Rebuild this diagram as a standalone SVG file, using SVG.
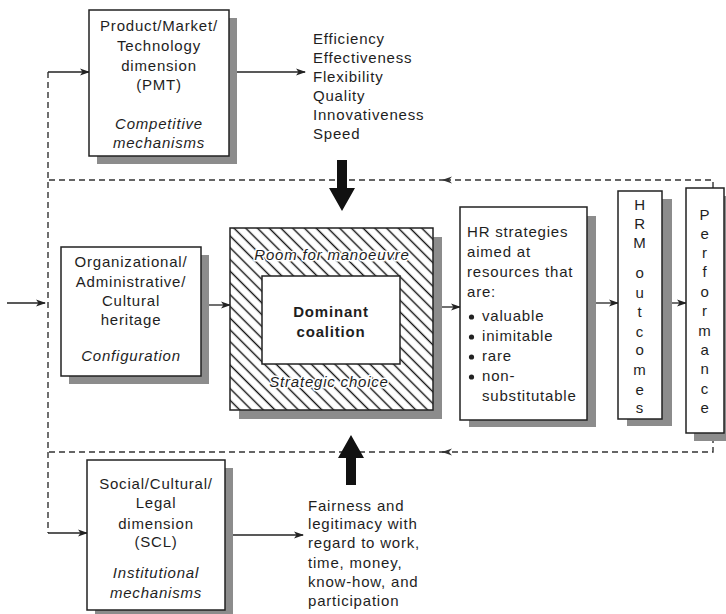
<svg xmlns="http://www.w3.org/2000/svg" width="726" height="614" viewBox="0 0 726 614">
<style>
text{font-family:"Liberation Sans",Arial,sans-serif;font-size:15px;letter-spacing:0.8px;fill:#1e1e1e}
.c{text-anchor:middle}
.i{font-style:italic}
.b{font-weight:bold}
.box{fill:#fff;stroke:#222;stroke-width:1.5}
.sh{fill:#8c8c8c}
.ln{fill:none;stroke:#222;stroke-width:1.3}
.dash{fill:none;stroke:#333;stroke-width:1.4;stroke-dasharray:6 4}
.halo{stroke:#fff;stroke-width:3;paint-order:stroke;stroke-linejoin:round}
</style>
<defs>
<marker id="ah" markerWidth="10" markerHeight="8" refX="9" refY="4" orient="auto" markerUnits="userSpaceOnUse">
<path d="M0,0.5 L10,4 L0,7.5 L2.5,4 Z" fill="#222"/>
</marker>
<pattern id="hatch" width="8.3" height="8.3" patternUnits="userSpaceOnUse" patternTransform="rotate(45)">
<rect width="8.3" height="8.3" fill="#fff"/>
<line x1="0" y1="4.15" x2="8.3" y2="4.15" stroke="#111" stroke-width="1.4"/>
</pattern>
</defs>

<g id="connectors">
<path class="dash" d="M713,188 V180 H442"/>
<path class="dash" d="M445,180 H48"/>
<polygon points="442,180 452,176.5 449,180 452,183.5" fill="#333"/>
<path class="dash" d="M48,72 V533"/>
<path class="dash" d="M713,437 V452 H442"/>
<path class="dash" d="M445,452 H48"/>
<polygon points="442,452 452,448.5 449,452 452,455.5" fill="#333"/>
<path class="ln" d="M48,72 H89" marker-end="url(#ah)"/>
<path class="ln" d="M48,533 H87" marker-end="url(#ah)"/>
<path class="ln" d="M7,303 H45" marker-end="url(#ah)"/>
<path class="ln" d="M229,72 H305" marker-end="url(#ah)"/>
<path class="ln" d="M225,535 H303" marker-end="url(#ah)"/>
<path class="ln" d="M201,305 H230" marker-end="url(#ah)"/>
<path class="ln" d="M433,307 H460" marker-end="url(#ah)"/>
<path class="ln" d="M587,303 H618" marker-end="url(#ah)"/>
<path class="ln" d="M662,303 H686" marker-end="url(#ah)"/>
<path d="M337,160 H347 V188 H355 L342,211 L329,188 H337 Z" fill="#111"/>
<path d="M351,435 L364,458 H356 V485 H346 V458 H338 Z" fill="#111"/>
</g>

<g id="pmt">
<rect class="sh" x="97" y="18" width="140" height="146"/>
<rect class="box" x="89" y="10" width="140" height="146"/>
<text class="c" x="159" y="31">Product/Market/</text>
<text class="c" x="159" y="51">Technology</text>
<text class="c" x="159" y="71">dimension</text>
<text class="c" x="159" y="90">(PMT)</text>
<text class="c i" x="159" y="129">Competitive</text>
<text class="c i" x="159" y="148">mechanisms</text>
</g>

<g id="pmt-outcomes">
<text x="313" y="44">Efficiency</text>
<text x="313" y="63">Effectiveness</text>
<text x="313" y="82">Flexibility</text>
<text x="313" y="101">Quality</text>
<text x="313" y="120">Innovativeness</text>
<text x="313" y="139">Speed</text>
</g>

<g id="oac">
<rect class="sh" x="69" y="255" width="140" height="129"/>
<rect class="box" x="61" y="247" width="140" height="129"/>
<text class="c" x="131" y="267">Organizational/</text>
<text class="c" x="131" y="287">Administrative/</text>
<text class="c" x="131" y="306">Cultural</text>
<text class="c" x="131" y="325">heritage</text>
<text class="c i" x="131" y="361">Configuration</text>
</g>

<g id="coalition">
<rect class="sh" x="239" y="237" width="203" height="182"/>
<rect x="230" y="228" width="203" height="182" fill="url(#hatch)" stroke="#222" stroke-width="1.5"/>
<rect class="box" x="262" y="276" width="138" height="88"/>
<text class="c i halo" x="332" y="260">Room for manoeuvre</text>
<text class="c b" x="331" y="317">Dominant</text>
<text class="c b" x="331" y="337">coalition</text>
<text class="c i halo" x="329" y="387">Strategic choice</text>
</g>

<g id="hr-strategies">
<rect class="sh" x="469" y="216" width="127" height="211"/>
<rect class="box" x="460" y="207" width="127" height="213"/>
<text x="467" y="237">HR strategies</text>
<text x="467" y="257">aimed at</text>
<text x="467" y="277">resources that</text>
<text x="467" y="297">are:</text>
<circle cx="471.5" cy="317" r="2.6" fill="#222"/>
<text x="482" y="321">valuable</text>
<circle cx="471.5" cy="337" r="2.6" fill="#222"/>
<text x="482" y="341">inimitable</text>
<circle cx="471.5" cy="357" r="2.6" fill="#222"/>
<text x="482" y="361">rare</text>
<circle cx="471.5" cy="377" r="2.6" fill="#222"/>
<text x="482" y="381">non-</text>
<text x="482" y="401">substitutable</text>
</g>

<g id="hrm-outcomes">
<rect class="sh" x="627" y="199" width="45" height="227"/>
<rect class="box" x="618" y="191" width="44" height="228"/>
<text class="c" x="640" y="210">H</text>
<text class="c" x="640" y="229">R</text>
<text class="c" x="640" y="248">M</text>
<text class="c" x="640" y="278">o</text>
<text class="c" x="640" y="298">u</text>
<text class="c" x="640" y="317">t</text>
<text class="c" x="640" y="337">c</text>
<text class="c" x="640" y="355">o</text>
<text class="c" x="640" y="375">m</text>
<text class="c" x="640" y="395">e</text>
<text class="c" x="640" y="413">s</text>
</g>

<g id="performance">
<rect class="sh" x="694" y="196" width="40" height="245"/>
<rect class="box" x="686" y="188" width="38" height="245"/>
<text class="c" x="705" y="220">P</text>
<text class="c" x="705" y="239">e</text>
<text class="c" x="705" y="258">r</text>
<text class="c" x="705" y="277">f</text>
<text class="c" x="705" y="297">o</text>
<text class="c" x="705" y="316">r</text>
<text class="c" x="705" y="336">m</text>
<text class="c" x="705" y="355">a</text>
<text class="c" x="705" y="374">n</text>
<text class="c" x="705" y="394">c</text>
<text class="c" x="705" y="413">e</text>
</g>

<g id="scl">
<rect class="sh" x="95" y="468" width="138" height="150"/>
<rect class="box" x="87" y="460" width="138" height="150"/>
<text class="c" x="156" y="489">Social/Cultural/</text>
<text class="c" x="156" y="508">Legal</text>
<text class="c" x="156" y="529">dimension</text>
<text class="c" x="156" y="547">(SCL)</text>
<text class="c i" x="156" y="578">Institutional</text>
<text class="c i" x="156" y="598">mechanisms</text>
</g>

<g id="scl-outcomes">
<text x="308" y="511">Fairness and</text>
<text x="308" y="529">legitimacy with</text>
<text x="308" y="548">regard to work,</text>
<text x="308" y="568">time, money,</text>
<text x="308" y="587">know-how, and</text>
<text x="308" y="606">participation</text>
</g>
</svg>
